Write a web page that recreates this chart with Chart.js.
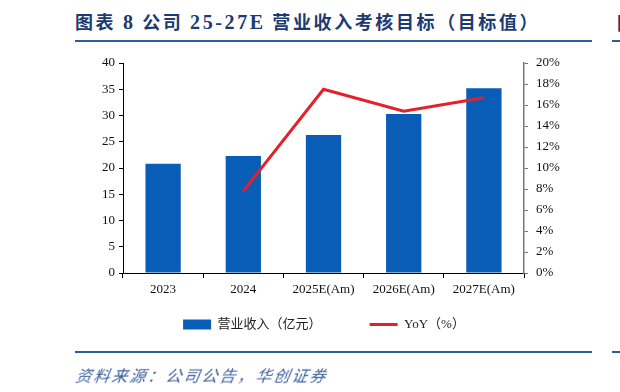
<!DOCTYPE html>
<html>
<head>
<meta charset="utf-8">
<script src="https://cdn.jsdelivr.net/npm/chart.js@4.4.1/dist/chart.umd.min.js"></script>
<style>
  html, body { margin: 0; padding: 0; background: #fff; }
  body { width: 620px; height: 392px; position: relative; overflow: hidden; }
  .title {
    position: absolute; left: 75px; top: 8px;
    font: bold 18px "Noto Sans CJK SC", sans-serif; color: #1b3b72;
    letter-spacing: 2.6px; white-space: nowrap;
  }
  .title .num { font-family: "Liberation Serif", serif; font-size: 20px; }
  .rule { position: absolute; height: 2px; background: #2f5c9c; }
  .frag { position: absolute; left: 617px; top: 9px; font: bold 18px "Noto Sans CJK SC"; color: #1b3b72; }
  .source {
    position: absolute; left: 76px; top: 363px;
    font: italic 16px "Noto Sans CJK SC", sans-serif; color: #3a5f9c;
    letter-spacing: 2px; transform: skewX(-10deg);
  }
  #wrap { position: absolute; left: 0; top: 0; width: 620px; height: 374px; }
</style>
</head>
<body>
<div class="title">图表 <span class="num">8</span> 公司 <span class="num">25-27E</span> 营业收入考核目标（目标值）</div>
<div class="rule" style="left:75px; top:40px; width:517px;"></div>
<div class="rule" style="left:612px; top:40px; width:8px;"></div>
<div class="frag">图</div>
<div id="wrap"><canvas id="c"></canvas></div>
<div class="rule" style="left:75px; top:351px; width:517px;"></div>
<div class="rule" style="left:612px; top:351px; width:8px;"></div>
<div class="source">资料来源：公司公告，华创证券</div>
<script>
// 数据
const years = ["2023", "2024", "2025E(Am)", "2026E(Am)", "2027E(Am)"];
const revenue = [20.8, 22.3, 26.3, 30.3, 35.2];     // 营业收入（亿元）
const yoy = [null, 7.8, 17.5, 15.4, 16.7];          // YoY（%）
const leftTicks = [0, 5, 10, 15, 20, 25, 30, 35, 40];
const rightTicks = [0, 2, 4, 6, 8, 10, 12, 14, 16, 18, 20];

const tickFont = { family: "Liberation Serif", size: 13 };

// 图例往上挪，靠近横轴，并稍微右移
const legendShift = {
  id: "legendShift",
  afterLayout(chart) {
    chart.legend.top -= 33;
    chart.legend.bottom -= 33;
    chart.legend.left += 12;
    chart.legend.right += 12;
  },
};

new Chart(document.getElementById("c"), {
  data: {
    labels: years,
    datasets: [
      {
        type: "line",
        label: "YoY（%）",
        data: yoy,
        yAxisID: "y1",
        borderColor: "#e3202b",
        backgroundColor: "#e3202b",
        borderWidth: 3,
        pointRadius: 0,
        tension: 0,
        order: 0,
      },
      {
        type: "bar",
        label: "营业收入（亿元）",
        data: revenue,
        yAxisID: "y",
        backgroundColor: "#0a5db6",
        borderColor: "#0a5db6",
        barPercentage: 0.44,
        categoryPercentage: 1,
        order: 1,
      },
    ],
  },
  plugins: [legendShift],
  options: {
    responsive: true,
    maintainAspectRatio: false,
    animation: false,
    layout: { padding: { left: 60, right: 56, top: 63, bottom: 0 } },
    plugins: {
      tooltip: { enabled: false },
      legend: {
        position: "bottom",
        reverse: true,
        labels: {
          usePointStyle: true,
          pointStyleWidth: 28,
          boxHeight: 10,
          padding: 48,
          color: "#222",
          font: { family: "'Liberation Serif', 'Noto Sans CJK SC'", size: 13 },
          generateLabels: (chart) =>
            chart.data.datasets.map((ds, i) => ({
              text: ds.label,
              fillStyle: ds.backgroundColor,
              strokeStyle: ds.borderColor,
              lineWidth: ds.type === "line" ? 3 : 0,
              pointStyle: ds.type === "line" ? "line" : "rect",
              datasetIndex: i,
              hidden: false,
              fontColor: "#222",
            })),
        },
      },
    },
    scales: {
      x: {
        grid: { display: true, drawOnChartArea: false, drawTicks: true, tickLength: 5, color: "#000", offset: true },
        border: { color: "#000", width: 1 },
        ticks: { color: "#111", font: tickFont, padding: 4, maxRotation: 0 },
        afterFit: (s) => { s.height = 30; },
      },
      y: {
        position: "left",
        min: 0, max: 40,
        afterBuildTicks: (s) => { s.ticks = leftTicks.map((v) => ({ value: v })); },
        grid: { drawOnChartArea: false, tickLength: 4, color: "#000" },
        border: { color: "#000", width: 1 },
        ticks: { color: "#111", font: tickFont, padding: 4 },
        afterFit: (s) => { s.width = 63; },
      },
      y1: {
        position: "right",
        min: 0, max: 20,
        afterBuildTicks: (s) => { s.ticks = rightTicks.map((v) => ({ value: v })); },
        grid: { drawOnChartArea: false, tickLength: 4, color: "#777" },
        border: { color: "#777", width: 1.5 },
        ticks: { color: "#111", font: tickFont, padding: 8, callback: (v) => v + "%" },
        afterFit: (s) => { s.width = 40; },
      },
    },
  },
});
</script>
</body>
</html>
